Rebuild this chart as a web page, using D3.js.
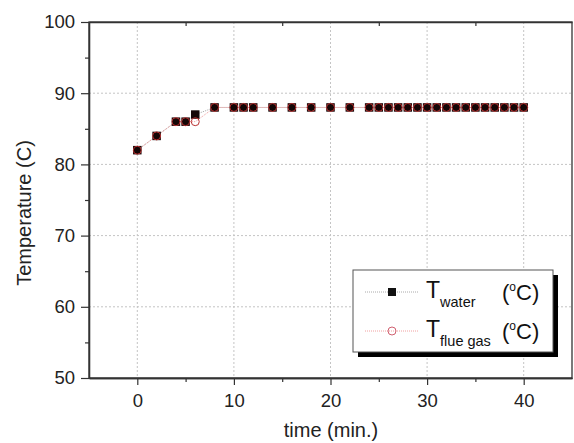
<!DOCTYPE html>
<html>
<head>
<meta charset="utf-8">
<script src="https://cdn.jsdelivr.net/npm/d3@7"></script>
<style>
  body { margin: 0; background: #fff; }
  svg text { font-family: "Liberation Sans", Arial, sans-serif; }
</style>
</head>
<body>
<div id="chart-area"></div>
<script>
// data
var times = [0, 2, 4, 5, 6, 8, 10, 11, 12, 14, 16, 18, 20, 22,
             24, 25, 26, 27, 28, 29, 30, 31, 32, 33, 34, 35, 36, 37, 38, 39, 40];
var tWater = [82, 84, 86, 86, 87, 88, 88, 88, 88, 88, 88, 88, 88, 88,
              88, 88, 88, 88, 88, 88, 88, 88, 88, 88, 88, 88, 88, 88, 88, 88, 88];
var tFlue = [82, 84, 86, 86, 86, 88, 88, 88, 88, 88, 88, 88, 88, 88,
             88, 88, 88, 88, 88, 88, 88, 88, 88, 88, 88, 88, 88, 88, 88, 88, 88];
var xTicks = [0, 10, 20, 30, 40];
var xMinor = [5, 15, 25, 35];
var yTicks = [50, 60, 70, 80, 90, 100];
var yMinor = [55, 65, 75, 85, 95];

var margin = { left: 89, right: 2, top: 22, bottom: 65 };
var width = 574 - margin.left - margin.right,
    height = 443 - margin.top - margin.bottom;

var svg = d3.select("#chart-area")
    .append("svg")
        .attr("width", 574)
        .attr("height", 443);
var g = svg.append("g")
        .attr("transform", "translate(" + margin.left + "," + margin.top + ")");

var x = d3.scaleLinear().domain([-5, 45]).range([0, width]);
var y = d3.scaleLinear().domain([50, 100]).range([height, 0]);

// grid
g.selectAll(".vgrid").data(xTicks).enter().append("line")
    .attr("x1", function(d){ return x(d); }).attr("x2", function(d){ return x(d); })
    .attr("y1", 0).attr("y2", height)
    .attr("stroke", "#c4c4c4").attr("stroke-dasharray", "2,2");
g.selectAll(".hgrid").data(yTicks.slice(1, -1)).enter().append("line")
    .attr("y1", function(d){ return y(d); }).attr("y2", function(d){ return y(d); })
    .attr("x1", 0).attr("x2", width)
    .attr("stroke", "#c4c4c4").attr("stroke-dasharray", "2,2");

// frame
g.append("rect")
    .attr("width", width).attr("height", height)
    .attr("fill", "none").attr("stroke", "#333").attr("stroke-width", 1.3);

// X Axis
g.append("g")
    .attr("transform", "translate(0," + height + ")")
    .call(d3.axisBottom(x).tickValues(xTicks).tickSize(7).tickPadding(9).tickSizeOuter(0));
g.append("g")
    .attr("transform", "translate(0," + height + ")")
    .call(d3.axisBottom(x).tickValues(xMinor).tickSize(4).tickFormat("").tickSizeOuter(0));
g.append("g")
    .call(d3.axisBottom(x).tickValues(xMinor).tickSize(4).tickFormat("").tickSizeOuter(0));

// Y Axis
g.append("g")
    .call(d3.axisLeft(y).tickValues(yTicks).tickSize(8).tickPadding(6).tickSizeOuter(0));
g.append("g")
    .call(d3.axisLeft(y).tickValues(yMinor).tickSize(4).tickFormat("").tickSizeOuter(0));

g.selectAll(".domain").attr("stroke", "#333").attr("stroke-width", 1.3);
g.selectAll(".tick line").attr("stroke", "#333").attr("stroke-width", 1.2);
g.selectAll(".tick text").attr("font-size", "18.5px").attr("fill", "#222")
    .attr("font-family", "Liberation Sans, Arial, sans-serif");

// Axis labels
svg.append("text")
    .attr("x", 331).attr("y", 437)
    .attr("font-size", "20px").attr("text-anchor", "middle").attr("fill", "#222")
    .text("time (min.)");
svg.append("text")
    .attr("transform", "translate(31,213) rotate(-90)")
    .attr("font-size", "20px").attr("text-anchor", "middle").attr("fill", "#222")
    .text("Temperature (C)");

// connecting lines
var waterPts = times.map(function(t, i){ return [t, tWater[i]]; });
var fluePts = times.map(function(t, i){ return [t, tFlue[i]]; });
var line = d3.line()
    .x(function(d){ return x(d[0]); })
    .y(function(d){ return y(d[1]); });
g.append("path").datum(waterPts).attr("d", line)
    .attr("fill", "none").attr("stroke", "#aaa").attr("stroke-dasharray", "1,1");
g.append("path").datum(fluePts).attr("d", line)
    .attr("fill", "none").attr("stroke", "#f0a0a0").attr("stroke-dasharray", "1,1");

// markers
var sq = 8.5;
g.selectAll(".sq").data(waterPts).enter().append("rect")
    .attr("x", function(d){ return x(d[0]) - sq / 2; })
    .attr("y", function(d){ return y(d[1]) - sq / 2; })
    .attr("width", sq).attr("height", sq)
    .attr("fill", "#140606");
g.selectAll(".ci").data(fluePts).enter().append("circle")
    .attr("cx", function(d){ return x(d[0]); })
    .attr("cy", function(d){ return y(d[1]); })
    .attr("r", 4)
    .attr("fill", "none").attr("stroke", "#b83030").attr("stroke-width", 1);

// Legend
var lg = svg.append("g");
lg.append("rect").attr("x", 358).attr("y", 275).attr("width", 200).attr("height", 82).attr("fill", "#000");
lg.append("rect").attr("x", 353).attr("y", 270).attr("width", 200).attr("height", 82)
    .attr("fill", "#fff").attr("stroke", "#555").attr("stroke-width", 1);

var legendItems = [
    { sub: "water", yy: 292, type: "sq" },
    { sub: "flue gas", yy: 331, type: "ci" }
];
legendItems.forEach(function(it) {
    lg.append("line").attr("x1", 365).attr("x2", 418).attr("y1", it.yy).attr("y2", it.yy)
        .attr("stroke", it.type == "sq" ? "#aaa" : "#f0a0a0").attr("stroke-dasharray", "1,1");
    if (it.type == "sq") {
        lg.append("rect").attr("x", 388).attr("y", it.yy - 4).attr("width", 8).attr("height", 8).attr("fill", "#111");
    } else {
        lg.append("circle").attr("cx", 392).attr("cy", it.yy).attr("r", 4)
            .attr("fill", "none").attr("stroke", "#d06070");
    }
    var t = lg.append("text").attr("x", 426).attr("y", it.yy + 6).attr("fill", "#111").attr("font-size", "23px");
    t.append("tspan").text("T");
    t.append("tspan").attr("font-size", "14.5px").attr("dy", 9).text(it.sub);
    var c = lg.append("text").attr("x", 502).attr("y", it.yy + 8).attr("fill", "#111").attr("font-size", "22px");
    c.append("tspan").text("(");
    c.append("tspan").attr("font-size", "12px").attr("dy", -9).text("o");
    c.append("tspan").attr("dy", 9).text("C)");
});
</script>
</body>
</html>
